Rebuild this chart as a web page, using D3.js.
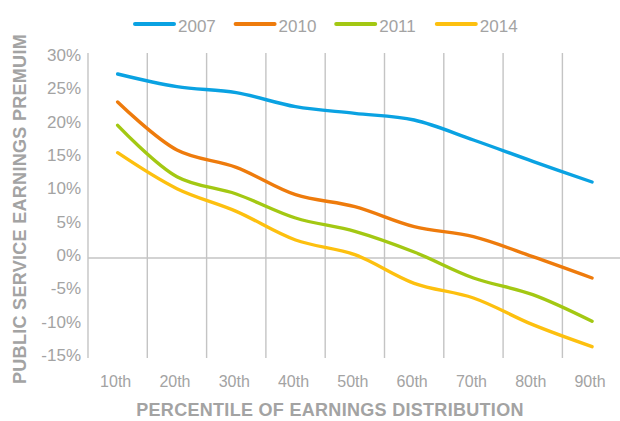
<!DOCTYPE html>
<html>
<head>
<meta charset="utf-8">
<script src="https://cdn.jsdelivr.net/npm/d3@7"></script>
<style>
  html, body { margin: 0; padding: 0; background: #fff; }
  svg { display: block; font-family: "Liberation Sans", Arial, sans-serif; }
  .tick-label { fill: #a3a3a3; font-size: 16px; }
  .y-tick { font-size: 17px; }
  .axis-title { fill: #a3a3a3; font-size: 18px; font-weight: bold; letter-spacing: 0.3px; }
  .legend-label { fill: #a3a3a3; font-size: 17px; }
  .grid line { stroke: #c4c4c4; stroke-width: 1.4; }
</style>
</head>
<body>
<svg id="chart" width="620" height="421"></svg>
<script>
const percentiles = ["10th", "20th", "30th", "40th", "50th", "60th", "70th", "80th", "90th"];
const yTicks = [30, 25, 20, 15, 10, 5, 0, -5, -10, -15];

const years = ["2007", "2010", "2011", "2014"];
const colors = ["#0aa2e2", "#ee7b0c", "#a3c813", "#fdc00f"];

const premium2007 = [27.6, 25.7, 24.8, 22.7, 21.7, 20.7, 17.7, 14.5, 11.4];
const premium2010 = [23.4, 16.2, 13.6, 9.5, 7.7, 4.7, 3.2, 0.2, -3.0];
const premium2011 = [19.9, 12.2, 9.6, 6.0, 4.0, 0.9, -3.0, -5.5, -9.5];
const premium2014 = [15.8, 10.4, 7.0, 2.7, 0.5, -3.8, -6.0, -10.0, -13.3];

const seriesValues = [premium2007, premium2010, premium2011, premium2014];

const svg = d3.select("#chart");
const width = 620;
const plot = { left: 88, right: 621.7, top: 58, bottom: 358, gridTop: 53 };

const x = d3.scaleBand().domain(percentiles).range([plot.left, plot.right]).padding(0);
const y = d3.scaleLinear().domain([-15, 30]).range([plot.bottom, plot.top]);

function center(cat) {
  return x(cat) + x.bandwidth() / 2;
}

// vertical grid at category boundaries
svg
  .append("g")
  .attr("class", "grid")
  .selectAll("line")
  .data(percentiles)
  .join("line")
  .attr("x1", (d) => x(d))
  .attr("x2", (d) => x(d))
  .attr("y1", plot.gridTop)
  .attr("y2", plot.bottom);

// zero line
svg
  .append("g")
  .attr("class", "grid")
  .append("line")
  .attr("x1", plot.left)
  .attr("x2", width)
  .attr("y1", y(0))
  .attr("y2", y(0));

// y tick labels
svg
  .append("g")
  .selectAll("text")
  .data(yTicks)
  .join("text")
  .attr("class", "tick-label y-tick")
  .attr("x", 81)
  .attr("y", (d) => y(d) + 3)
  .attr("text-anchor", "end")
  .text((d) => `${d}%`);

// x tick labels
svg
  .append("g")
  .selectAll("text")
  .data(percentiles)
  .join("text")
  .attr("class", "tick-label")
  .attr("x", (d) => center(d) - 2)
  .attr("y", 387)
  .attr("text-anchor", "middle")
  .text((d) => d);

// lines
const line = d3
  .line()
  .x((d, i) => center(percentiles[i]))
  .y((d) => y(d))
  .curve(d3.curveCatmullRom.alpha(0.5));

svg
  .append("g")
  .selectAll("path")
  .data(seriesValues)
  .join("path")
  .attr("fill", "none")
  .attr("stroke", (d, i) => colors[i])
  .attr("stroke-width", 3.4)
  .attr("stroke-linecap", "round")
  .attr("d", line);

// legend
const legend = svg
  .append("g")
  .selectAll("g")
  .data(years)
  .join("g")
  .attr("transform", (d, i) => `translate(${135 + i * 100.6}, 24)`);

legend
  .append("line")
  .attr("x1", 0)
  .attr("x2", 39)
  .attr("y1", 0)
  .attr("y2", 0)
  .attr("stroke", (d, i) => colors[i])
  .attr("stroke-width", 4)
  .attr("stroke-linecap", "round");

legend
  .append("text")
  .attr("class", "legend-label")
  .attr("x", 43)
  .attr("y", 7.5)
  .text((d) => d);

// axis titles
svg
  .append("text")
  .attr("class", "axis-title")
  .attr("x", 330)
  .attr("y", 416)
  .attr("text-anchor", "middle")
  .text("PERCENTILE OF EARNINGS DISTRIBUTION");

svg
  .append("text")
  .attr("class", "axis-title")
  .attr("transform", "translate(26, 209) rotate(-90)")
  .attr("text-anchor", "middle")
  .text("PUBLIC SERVICE EARNINGS PREMUIM");
</script>
</body>
</html>
